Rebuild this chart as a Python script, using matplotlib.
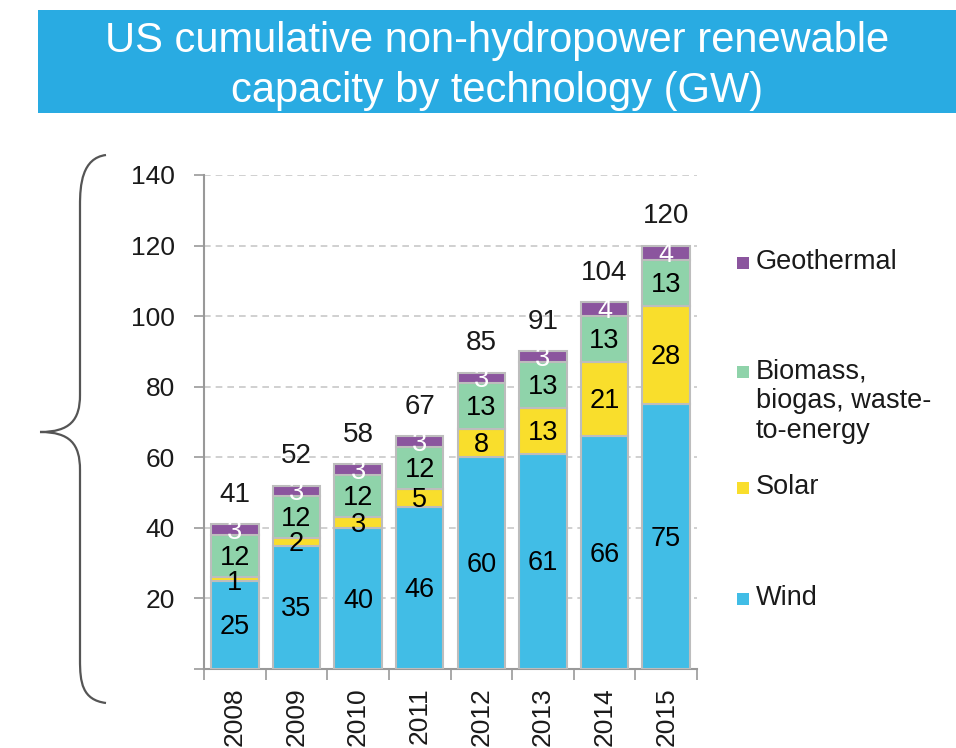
import numpy as np
import matplotlib.pyplot as plt
from matplotlib.patches import Rectangle, PathPatch
from matplotlib.path import Path

plt.rcParams['font.family'] = ['Liberation Sans', 'DejaVu Sans']

years = ['2008', '2009', '2010', '2011', '2012', '2013', '2014', '2015']
wind = [25, 35, 40, 46, 60, 61, 66, 75]
solar = [1, 2, 3, 5, 8, 13, 21, 28]
biomass = [12, 12, 12, 12, 13, 13, 13, 13]
geothermal = [3, 3, 3, 3, 3, 3, 4, 4]
totals = [41, 52, 58, 67, 85, 91, 104, 120]

series = [('Wind', wind, '#41bde6', 'black'),
          ('Solar', solar, '#f9de2c', 'black'),
          ('Biomass,\nbiogas, waste-\nto-energy', biomass, '#8fd3aa', 'black'),
          ('Geothermal', geothermal, '#8b559e', 'white')]

W, H = 956, 748
fig = plt.figure(figsize=(W / 100, H / 100), dpi=100)

# overlay in pixel coords for title band, brace, legend
over = fig.add_axes([0, 0, 1, 1])
over.set_xlim(0, W)
over.set_ylim(H, 0)
over.axis('off')

over.add_patch(Rectangle((38, 10), W - 38, 103, color='#29abe2', lw=0))
over.text(497, 41, 'US cumulative non-hydropower renewable', color='white',
          fontsize=30, ha='center', va='center')
over.text(497, 91, 'capacity by technology (GW)', color='white',
          fontsize=30, ha='center', va='center')

# curly brace on the left
verts = [(106, 155), (82, 158), (80, 185), (80, 205),
         (80, 395),
         (80, 420), (70, 432), (40, 432),
         (70, 432), (80, 444), (80, 470),
         (80, 660),
         (80, 682), (82, 700), (106, 703)]
codes = [Path.MOVETO, Path.CURVE4, Path.CURVE4, Path.CURVE4,
         Path.LINETO,
         Path.CURVE4, Path.CURVE4, Path.CURVE4,
         Path.CURVE4, Path.CURVE4, Path.CURVE4,
         Path.LINETO,
         Path.CURVE4, Path.CURVE4, Path.CURVE4]
over.add_patch(PathPatch(Path(verts, codes), fill=False, ec='#555555', lw=1.6))

# hand placed legend
leg_pos = {'Geothermal': 263, 'Biomass,\nbiogas, waste-\nto-energy': 372,
           'Solar': 488, 'Wind': 599}
for name, vals, col, tcol in series:
    y = leg_pos[name]
    over.add_patch(Rectangle((737, y - 6), 12, 12, color=col, lw=0))
    over.text(756, y - 14, name, fontsize=19.5, ha='left', va='top',
              color='#1a1a1a', linespacing=1.2)

ax = fig.add_axes([204 / W, (H - 669) / H, 493 / W, 494 / H])
ax.set_zorder(2)
ax.patch.set_alpha(0)
x = np.arange(len(years))
bottom = np.zeros(len(years))
for name, vals, col, tcol in series:
    vals = np.array(vals, dtype=float)
    ax.bar(x, vals, 0.77, bottom=bottom, color=col, edgecolor='#bdbdbd',
           linewidth=1.5, zorder=3)
    for xi, b, v in zip(x, bottom, vals):
        shift = -1.0 if v < 2 else -0.6   # labels sit a bit low in the original
        ax.text(xi, b + v / 2 + shift, '%d' % v, ha='center', va='center',
                fontsize=19.5, color=tcol, zorder=4)
    bottom += vals

for xi, b, t in zip(x, bottom, totals):
    ax.text(xi, b + 8.3, str(t), ha='center', va='center', fontsize=20,
            color='#1a1a1a')

ax.set_xlim(-0.5, len(years) - 0.5)
ax.set_ylim(0, 140)
ax.set_yticks(range(0, 141, 20))
ax.set_yticklabels([''] + [str(v) for v in range(20, 141, 20)])
ax.set_xticks(x)
ax.set_xticklabels(years, rotation=90, fontsize=19, color='#1a1a1a')
ax.set_xticks(np.arange(-0.5, len(years), 1), minor=True)
ax.tick_params(axis='x', which='major', length=0, pad=13)
ax.tick_params(axis='x', which='minor', length=8, color='#999999', width=1.2)
ax.tick_params(axis='y', length=7, color='#999999', width=1.2,
               labelsize=19, labelcolor='#1a1a1a', pad=14)
ax.grid(axis='y', ls=(0, (4, 3)), color='#c8c8c8', lw=1.2, zorder=0)
for s in ['top', 'right']:
    ax.spines[s].set_visible(False)
for s in ['left', 'bottom']:
    ax.spines[s].set_color('#999999')
    ax.spines[s].set_linewidth(1.5)

fig.savefig('out.png', dpi=100)
